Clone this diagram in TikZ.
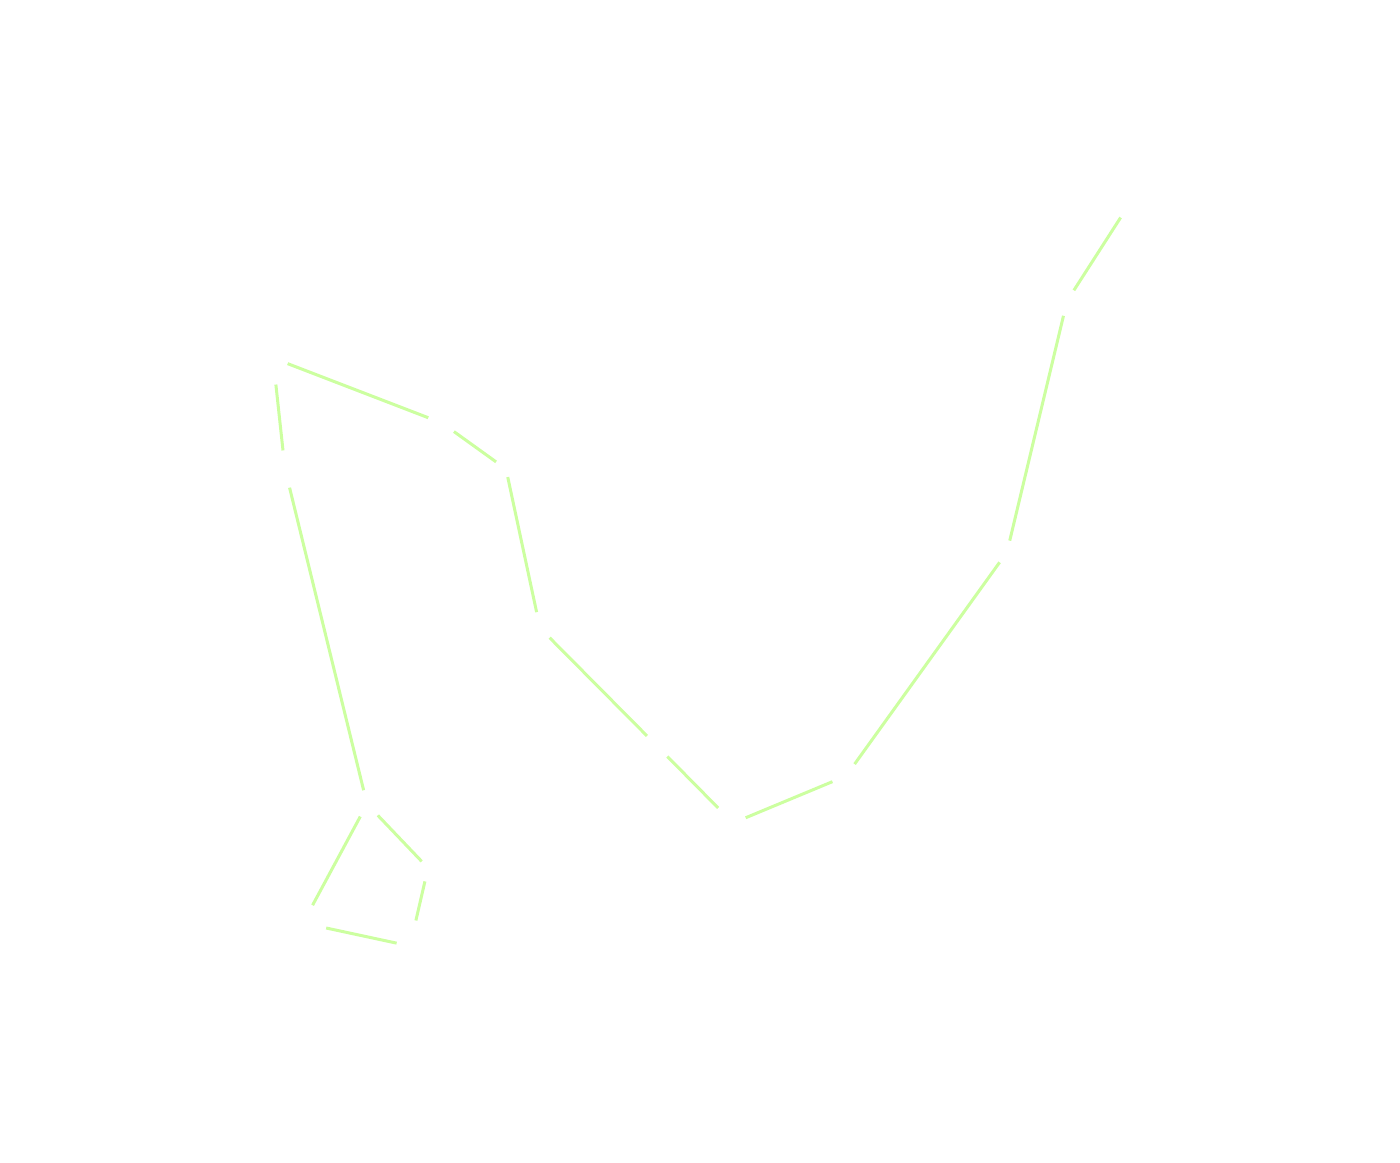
\documentclass[tikz,border=0pt]{standalone}
\usetikzlibrary{positioning}
\definecolor{lineclr}{RGB}{204,255,160}
\tikzset{
  starpt/.style ={circle, inner sep=0pt, minimum size=0pt},
  cline/.style  ={draw=lineclr, line width=0.3mm},
  gap/.style 2 args={shorten <=#1, shorten >=#2},
}

\begin{document}
\begin{tikzpicture}[x=0.1mm, y=-0.1mm]
  \useasboundingbox (0,0) rectangle (1400,1162);

  % --- stars (invisible) ------------------------------------------------
  \node[starpt] (a) at (1128,206) {};
  \node[starpt] (b) at (1067,301) {};
  \node[starpt] (c) at (1007,552) {};
  \node[starpt] (d) at (846,776)  {};
  \node[starpt] (e) at (733,823)  {};
  \node[starpt] (f) at (657,746)  {};
  \node[starpt] (g) at (540,628)  {};
  \node[starpt] (h) at (506,469)  {};
  \node[starpt] (i) at (442,423)  {};
  \node[starpt] (j) at (273,358)  {};
  \node[starpt] (k) at (285,469)  {};
  \node[starpt] (l) at (367,804)  {};
  \node[starpt] (m) at (428,868)  {};
  \node[starpt] (n) at (410,946)  {};
  \node[starpt] (o) at (303,923)  {};

  % --- tail to sting ----------------------------------------------------
  \draw[cline, gap={1.3mm}{1.2mm}] (a)--(b);
  \draw[cline, gap={1.45mm}{1.1mm}] (b)--(c);
  \draw[cline, gap={1.2mm}{1.4mm}] (c)--(d);
  \draw[cline, gap={1.4mm}{1.3mm}] (d)--(e);
  \draw[cline, gap={2.05mm}{1.4mm}] (e)--(f);
  \draw[cline, gap={1.35mm}{1.3mm}] (f)--(g);
  \draw[cline, gap={1.55mm}{0.75mm}] (g)--(h);
  \draw[cline, gap={1.15mm}{1.4mm}] (h)--(i);
  \draw[cline, gap={1.4mm}{1.5mm}] (i)--(j);
  \draw[cline, gap={2.6mm}{1.8mm}] (j)--(k);
  \draw[cline, gap={1.85mm}{1.35mm}] (k)--(l);

  % --- head -------------------------------------------------------------
  \draw[cline, gap={1.5mm}{0.85mm}] (l)--(m);
  \draw[cline, gap={1.3mm}{2.55mm}] (m)--(n);
  \draw[cline, gap={1.3mm}{2.3mm}] (n)--(o);
  \draw[cline, gap={1.95mm}{1.35mm}] (o)--(l);
\end{tikzpicture}
\end{document}
